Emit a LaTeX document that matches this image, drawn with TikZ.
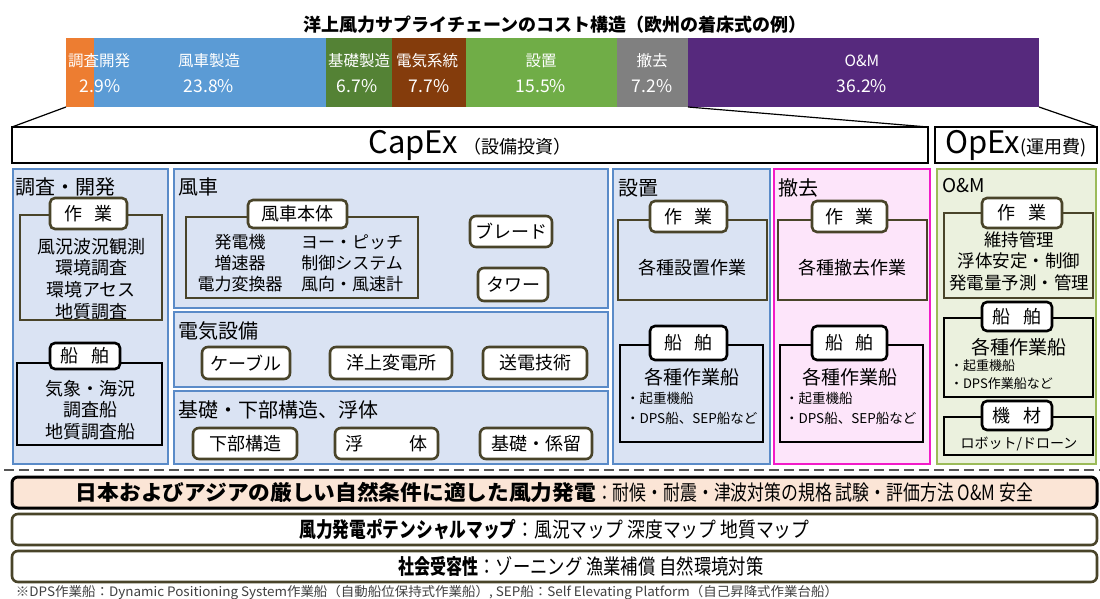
\documentclass[tikz,border=0pt]{standalone}
\usepackage{fontspec}
\setmainfont{Noto Sans CJK JP}
\usepackage{graphicx}
\definecolor{cOrange}{HTML}{ED7D31}
\definecolor{cBlueSeg}{HTML}{5B9BD5}
\definecolor{cDkGreen}{HTML}{548235}
\definecolor{cBrown}{HTML}{843C0C}
\definecolor{cGreen}{HTML}{70AD47}
\definecolor{cGray}{HTML}{808080}
\definecolor{cPurple}{HTML}{56297D}
\definecolor{cPanelB}{HTML}{DAE3F3}
\definecolor{cBorderB}{HTML}{5A8BC8}
\definecolor{cPink}{HTML}{FDE5FA}
\definecolor{cMagenta}{HTML}{F21BC8}
\definecolor{cPanelG}{HTML}{EBF1DE}
\definecolor{cBorderG}{HTML}{9BBB59}
\definecolor{cOlive}{HTML}{494429}
\definecolor{cPeach}{HTML}{FBE5D6}
\definecolor{cDash}{HTML}{555555}
\definecolor{cFoot}{HTML}{404040}
\newcommand{\fsz}[1]{\fontsize{#1}{#1}\selectfont}
\newcommand{\fszl}[2]{\fontsize{#1}{#2}\selectfont}
\newcommand{\rbox}[7][]{%
  \pgfmathsetmacro\rbcx{(#3+#5)/2}%
  \pgfmathsetmacro\rbcy{(#4+#6)/2}%
  \pgfmathsetmacro\rbw{#5-#3}%
  \pgfmathsetmacro\rbh{#6-#4}%
  \node[#1, minimum width=\rbw pt, minimum height=\rbh pt] (#2) at (\rbcx,\rbcy) {#7};}
\begin{document}
\begin{tikzpicture}[x=1pt,y=-1pt,
  every node/.style={inner sep=0pt, outer sep=0pt},
  seg/.style={fill=#1, draw=none},
  barlbl/.style={text=white, font=\fsz{15.5}},
  barpct/.style={text=white, font=\fsz{17.5}},
  hdr/.style={draw=black, line width=2.6pt, fill=white},
  panel/.style={line width=2.6pt},
  ptitle/.style={anchor=west, font=\fsz{20}},
  workbox/.style={draw=cOlive, line width=2.6pt},
  shipbox/.style={draw=black, line width=2.6pt},
  tab/.style={fill=white, draw=cOlive, line width=2.6pt, rounded corners=5pt, font=\fsz{18}},
  shiptab/.style={tab, draw=black},
  btn/.style={fill=white, draw=cOlive, line width=2.6pt, rounded corners=6pt, font=\fsz{18}},
  body/.style={align=center, font=\fszl{18}{21.7}},
  item/.style={anchor=west, align=left, font=\fszl{13.5}{20}},
  bbox/.style={rounded corners=6pt},
  funnel/.style={draw=black, line width=1.2pt}
]
\useasboundingbox (0,0) rectangle (1100,599);
\fill[white] (0,0) rectangle (1100,599);

% title
\node[font=\bfseries\fsz{18}] (title) at (555,25) {洋上風力サプライチェーンのコスト構造（欧州の着床式の例）};

% cost bar
\rbox[seg=cOrange]{s1}{66}{38}{94}{107}{}
\rbox[seg=cBlueSeg]{s2}{94}{38}{326}{107}{}
\rbox[seg=cDkGreen]{s3}{326}{38}{392}{107}{}
\rbox[seg=cBrown]{s4}{392}{38}{466}{107}{}
\rbox[seg=cGreen]{s5}{466}{38}{617}{107}{}
\rbox[seg=cGray]{s6}{617}{38}{688}{107}{}
\rbox[seg=cPurple]{s7}{688}{38}{1039}{107}{}
\node[barlbl] (l1) at (99,61) {調査開発};
\node[barpct] (q1) at (100,86) {2.9\%};
\node[barlbl] (l2) at (209,61) {風車製造};
\node[barpct] (q2) at (209,86) {23.8\%};
\node[barlbl] (l3) at (359,61) {基礎製造};
\node[barpct] (q3) at (357,86) {6.7\%};
\node[barlbl] (l4) at (427,61) {電気系統};
\node[barpct] (q4) at (429,86) {7.7\%};
\node[barlbl] (l5) at (541,61) {設置};
\node[barpct] (q5) at (541,86) {15.5\%};
\node[barlbl] (l6) at (652,61) {撤去};
\node[barpct] (q6) at (652,86) {7.2\%};
\node[barlbl] (l7) at (862,61) {O\&M};
\node[barpct] (q7) at (862,86) {36.2\%};

% CapEx / OpEx headers
\rbox[hdr]{capex}{12}{127}{928}{163}{{\fsz{31}CapEx}\hspace{6pt}{\fsz{18}（設備投資）}}
\rbox[hdr]{opex}{935}{127}{1097}{163}{{\fsz{31}OpEx}{\fsz{18}(運用費)}}
\draw[funnel] (s1.south west) -- (capex.north west);
\draw[funnel] (s7.south west) -- (capex.north east);
\draw[funnel] (s7.south east) -- (opex.north east);

% panels
\rbox[panel, draw=cBorderB, fill=cPanelB]{p1}{13}{169}{168}{464}{}
\rbox[panel, draw=cBorderB, fill=cPanelB]{p2}{174}{169}{608}{308}{}
\rbox[panel, draw=cBorderB, fill=cPanelB]{p3}{174}{312}{608}{387}{}
\rbox[panel, draw=cBorderB, fill=cPanelB]{p4}{174}{391}{608}{464}{}
\rbox[panel, draw=cBorderB, fill=cPanelB]{p5}{613}{169}{770}{464}{}
\rbox[panel, draw=cMagenta, fill=cPink]{p6}{774}{169}{930}{464}{}
\rbox[panel, draw=cBorderG, fill=cPanelG]{p7}{937}{169}{1096}{464}{}

% P1 survey / development
\node[ptitle] (t1) at (16,187) {調査・開発};
\rbox[workbox]{w1}{20}{215}{162}{320}{}
\rbox[tab]{wt1}{50}{198}{127}{229}{作\hspace{0.7em}業}
\node[body] (w1x) at (91,279) {風況波況観測\\環境調査\\環境アセス\\地質調査};
\rbox[shipbox]{sh1}{17}{363}{162}{445}{}
\rbox[shiptab]{st1}{50}{343}{120}{369}{船\hspace{0.7em}舶}
\node[body] (sh1x) at (90,410) {気象・海況\\調査船\\地質調査船};

% P2 wind turbine
\node[ptitle] (t2) at (178,187) {風車};
\rbox[workbox]{w2}{186}{217}{418}{298}{}
\rbox[tab]{wt2}{248}{200}{347}{228}{風車本体}
\node[body, font=\fszl{17}{21}] (w2a) at (240,263) {発電機\\増速器\\電力変換器};
\node[body, font=\fszl{17}{21}] (w2b) at (352,263) {ヨー・ピッチ\\制御システム\\風向・風速計};
\rbox[btn]{bl}{470}{216}{552}{247}{ブレード}
\rbox[btn]{tw}{478}{268}{548}{301}{タワー}

% P3 electrical
\node[ptitle] (t3) at (178,331) {電気設備};
\rbox[btn]{cb}{202}{347}{290}{379}{ケーブル}
\rbox[btn]{ss}{330}{347}{452}{379}{洋上変電所}
\rbox[btn]{tt}{483}{347}{587}{379}{送電技術}

% P4 foundation
\node[ptitle] (t4) at (178,410) {基礎・下部構造、浮体};
\rbox[btn]{sub}{193}{428}{297}{459}{下部構造}
\rbox[btn]{flt}{335}{428}{438}{459}{浮\hspace{2.6em}体}
\rbox[btn]{mor}{480}{428}{592}{459}{基礎・係留}

% P5 installation
\node[ptitle] (t5) at (618,188) {設置};
\rbox[workbox]{w5}{618}{220}{767}{300}{}
\rbox[tab]{wt5}{650}{201}{727}{232}{作\hspace{0.7em}業}
\node[font=\fsz{18}] (w5x) at (692,268) {各種設置作業};
\rbox[shipbox]{sh5}{620}{345}{763}{442}{}
\rbox[shiptab]{st5}{650}{326}{727}{360}{船\hspace{0.7em}舶}
\node[font=\fsz{19}] (sh5x) at (692,377) {各種作業船};
\node[item] (sh5i) at (626,408) {・起重機船\\・DPS船、SEP船など};

% P6 removal
\node[ptitle] (t6) at (778,188) {撤去};
\rbox[workbox]{w6}{778}{220}{927}{300}{}
\rbox[tab]{wt6}{812}{201}{887}{232}{作\hspace{0.7em}業}
\node[font=\fsz{18}] (w6x) at (852,268) {各種撤去作業};
\rbox[shipbox]{sh6}{780}{345}{923}{442}{}
\rbox[shiptab]{st6}{812}{326}{887}{360}{船\hspace{0.7em}舶}
\node[font=\fsz{19}] (sh6x) at (850,377) {各種作業船};
\node[item] (sh6i) at (785,408) {・起重機船\\・DPS船、SEP船など};

% P7 O&M
\node[ptitle, font=\fsz{19}] (t7) at (942,186) {O\&M};
\rbox[workbox]{w7}{944}{213}{1093}{298}{}
\rbox[tab]{wt7}{982}{198}{1062}{228}{作\hspace{0.7em}業}
\node[body, font=\fszl{17.5}{21.5}] (w7x) at (1019,261) {維持管理\\浮体安定・制御\\発電量予測・管理};
\rbox[shipbox]{sh7}{944}{318}{1093}{397}{}
\rbox[shiptab]{st7}{982}{302}{1052}{331}{船\hspace{0.7em}舶}
\node[font=\fsz{19}] (sh7x) at (1019,347) {各種作業船};
\node[item, font=\fszl{13}{18}] (sh7i) at (950,375) {・起重機船\\・DPS作業船など};
\rbox[shipbox]{kz}{944}{417}{1093}{455}{}
\rbox[shiptab]{kzt}{982}{401}{1052}{430}{機\hspace{0.7em}材}
\node[font=\fsz{14}] (kzx) at (1019,444) {ロボット/ドローン};

% dashed separator
\coordinate (d1) at (4,470);
\coordinate (d2) at (1100,470);
\draw[line width=2pt, draw=cDash, dash pattern=on 10pt off 5pt] (d1) -- (d2);

% bottom boxes
\rbox[bbox, fill=cPeach, draw=black, line width=3pt]{b1}{12}{477}{1097}{508}{\resizebox{520pt}{\height}{\bfseries\fsz{21}日本およびアジアの厳しい自然条件に適した風力発電}\resizebox{437pt}{\height}{\fsz{21}：耐候・耐震・津波対策の規格 試験・評価方法 O\&M 安全}}
\rbox[bbox, fill=white, draw=cOlive, line width=2.6pt]{b2}{12}{514}{1097}{545}{\resizebox{217pt}{\height}{\bfseries\fsz{21}風力発電ポテンシャルマップ}\resizebox{293pt}{\height}{\fsz{21}：風況マップ 深度マップ 地質マップ}}
\rbox[bbox, fill=white, draw=cOlive, line width=2.6pt]{b3}{12}{551}{1097}{582}{}
\node (b3t) at (581,566.5) {\resizebox{80pt}{\height}{\bfseries\fsz{21}社会受容性}\resizebox{285pt}{\height}{\fsz{21}：ゾーニング 漁業補償 自然環境対策}};

% footnote
\node[anchor=west, text=cFoot] (fn) at (16,593) {\resizebox{822pt}{\height}{\fsz{13}※DPS作業船：Dynamic Positioning System作業船（自動船位保持式作業船）, SEP船：Self Elevating Platform（自己昇降式作業台船）}};
\end{tikzpicture}
\end{document}
